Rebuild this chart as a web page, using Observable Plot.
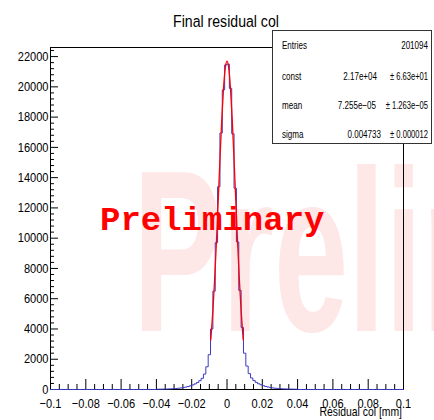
<!DOCTYPE html>
<html><head><meta charset="utf-8">
<script src="https://cdn.jsdelivr.net/npm/d3@7"></script>
<script src="https://cdn.jsdelivr.net/npm/@observablehq/plot@0.6"></script>
<style>
body{margin:0;background:#fff;}
#wrap{position:relative;width:434px;height:420px;overflow:hidden;font-family:"Liberation Sans",Arial,sans-serif;}
#wm,#ov,#chart{position:absolute;left:0;top:0;}
#ov{pointer-events:none;}
</style></head><body>
<div id="wrap">
<svg id="wm" width="434" height="420"></svg>
<div id="chart"></div>
<svg id="ov" width="434" height="420"></svg>
</div>
<script>
// ---- data ----
const titleText = "Final residual col";
const xLabelText = "Residual col [mm]";
const watermarkText = "Preliminary";
const stampText = "Preliminary";
const xMin = -0.1, xMax = 0.1, nBins = 150;
// bin counts for the bins covering [-0.04, 0.04] (all other bins empty)
const coreStartBin = 45;
const countsCore = [
  18, 21, 24, 28, 33, 39, 47, 56, 68, 84, 102, 128, 160, 195, 245, 300, 370, 460, 580, 740,
  1020, 1500, 2300, 4000, 6500, 9700, 13400, 16950, 19800, 21450,
  21500, 19900, 16900, 13300, 9750, 6550, 4100, 2400, 1550, 1050,
  760, 590, 470, 380, 310, 250, 200, 165, 130, 105, 85, 70, 58, 48, 40, 34, 29, 25, 22, 19
];
// fitted gaussian curve
const fitX = [-0.0092, -0.009, -0.008, -0.007, -0.006, -0.005, -0.004, -0.003, -0.002, -0.001, 0,
              0.001, 0.002, 0.003, 0.004, 0.005, 0.006, 0.007, 0.008, 0.009, 0.0092];
const fitY = [3280, 3560, 5200, 7270, 9720, 12420, 15180, 17750, 19850, 21220, 21700,
              21220, 19850, 17750, 15180, 12420, 9720, 7270, 5200, 3560, 3280];
const yTicks = [0, 2000, 4000, 6000, 8000, 10000, 12000, 14000, 16000, 18000, 20000, 22000];
const yTickLabels = ["0", "2000", "4000", "6000", "8000", "10000", "12000", "14000", "16000", "18000", "20000", "22000"];
const xTicks = [-0.1, -0.08, -0.06, -0.04, -0.02, 0, 0.02, 0.04, 0.06, 0.08, 0.1];
const xTickLabels = ["\u22120.1", "\u22120.08", "\u22120.06", "\u22120.04", "\u22120.02", "0", "0.02", "0.04", "0.06", "0.08", "0.1"];
const statNames = ["Entries", "const", "mean", "sigma"];
const statValues = ["201094", "2.17e+04", "7.255e\u221205", "0.004733"];
const statErrors = ["", "\u00b1 6.63e+01", "\u00b1 1.263e\u221205", "\u00b1 0.000012"];

// ---- build ----
const binW = (xMax - xMin) / nBins;
const full = new Array(nBins).fill(0);
countsCore.forEach((c, i) => full[coreStartBin + i] = c);
const steps = full.map((c, i) => ({x: xMin + i * binW, y: c}));
steps.push({x: xMax, y: full[nBins - 1]});
const fit = fitX.map((x, i) => ({x, y: fitY[i]}));
const yMinor = d3.range(0, 22601, 400).filter(v => v % 2000 !== 0);
const xMinor = d3.range(-20, 21).map(i => i * 0.005).filter(v => Math.abs(Math.round(v * 1000) % 20) !== 0);
const yLab = new Map(yTicks.map((v, i) => [v, yTickLabels[i]]));
const xLab = new Map(xTicks.map((v, i) => [v, xTickLabels[i]]));

const plot = Plot.plot({
  width: 434, height: 420,
  marginLeft: 50, marginRight: 31, marginTop: 47, marginBottom: 31,
  style: {background: "transparent", fontFamily: "Liberation Sans, Arial, sans-serif", fontSize: "13px", color: "#000"},
  x: {domain: [xMin, xMax]},
  y: {domain: [0, 22600]},
  marks: [
    Plot.axisY(yMinor, {tickSize: -4, tickFormat: () => "", label: null}),
    Plot.axisY(yTicks, {tickSize: -8, tickPadding: 10, tickFormat: d => yLab.get(d), label: null}),
    Plot.axisX(xMinor, {tickSize: -5, tickFormat: () => "", label: null}),
    Plot.axisX(xTicks, {tickSize: -10, tickPadding: 19, tickFormat: d => xLab.get(d), label: null}),
    Plot.frame({stroke: "black"}),
    Plot.line(steps, {x: "x", y: "y", curve: "step-after", stroke: "#3a3ac4", strokeWidth: 1}),
    Plot.line(fit, {x: "x", y: "y", curve: "natural", stroke: "#ff0000", strokeWidth: 1.3})
  ]
});
document.getElementById("chart").appendChild(plot);

// condense tick labels horizontally (x-only scale keeps anchor & vertical offset)
plot.querySelectorAll('g[aria-label$="tick label"] text').forEach(t => {
  if (!t.textContent) { t.remove(); return; }
  const tr = t.getAttribute("transform") || "";
  t.setAttribute("transform", `${tr} scale(0.85,1)`);
});

const NS = "http://www.w3.org/2000/svg";
function addText(svg, str, x, y, attrs, sx) {
  const t = document.createElementNS(NS, "text");
  t.textContent = str;
  t.setAttribute("transform", `translate(${x},${y}) scale(${sx},1)`);
  for (const k in attrs) t.setAttribute(k, attrs[k]);
  svg.appendChild(t);
  return t;
}
// watermark behind
const wm = document.getElementById("wm");
addText(wm, watermarkText, 133, 331, {"font-size": 230, "font-weight": "bold", fill: "#fde7e7", "font-family": "Liberation Sans, Arial, sans-serif"}, 0.58);

// overlay
const ov = document.getElementById("ov");
addText(ov, titleText, 226, 27, {"font-size": 17, "text-anchor": "middle", fill: "#000"}, 0.83);
addText(ov, xLabelText, 402, 416, {"font-size": 13, "text-anchor": "end", fill: "#000"}, 0.8);
addText(ov, stampText, 100, 230, {"font-size": 34, "font-weight": "bold", fill: "#ff0000", "font-family": "Liberation Mono, DejaVu Sans Mono, monospace"}, 1);
const box = document.createElementNS(NS, "rect");
box.setAttribute("x", 272.5); box.setAttribute("y", 30.5);
box.setAttribute("width", 159); box.setAttribute("height", 113);
box.setAttribute("fill", "#fff"); box.setAttribute("stroke", "#333");
ov.appendChild(box);
const rowY = [49, 80, 109, 138];
const valRight = [428, 377, 376, 381];
const st = {"font-size": 11.5, fill: "#000"};
statNames.forEach((n, i) => {
  addText(ov, n, 282, rowY[i], st, 0.7);
  addText(ov, statValues[i], valRight[i], rowY[i], {...st, "text-anchor": "end"}, 0.7);
  if (statErrors[i]) addText(ov, statErrors[i], 428, rowY[i], {...st, "text-anchor": "end"}, 0.66);
});
</script>
</body></html>
